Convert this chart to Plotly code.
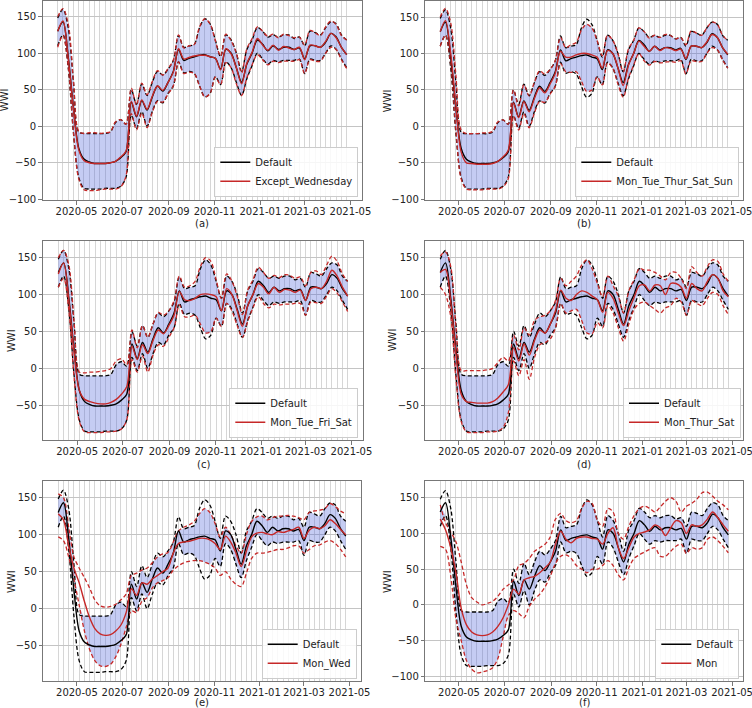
import numpy as np
import pandas as pd
import plotly.graph_objects as go

dates = pd.date_range('2020-04-06', periods=56, freq='7D').strftime('%Y-%m-%d').tolist()

default_mean = [130,143,95,25,-30,-45,-49,-51,-51,-51,-50,-48,-43,-35,33,13,35,22,40,55,48,60,75,105,90,93,95,97,98,95,93,78,105,100,80,60,85,100,118,112,103,110,105,108,108,105,107,92,110,110,108,115,127,122,108,98]
default_upper = [148,160,135,60,-8,-10,-10,-10,-10,-10,-8,5,9,3,50,30,58,42,60,75,70,78,90,124,108,110,112,135,147,140,118,95,125,118,100,75,105,118,135,130,122,125,122,125,125,120,122,110,130,128,125,135,143,140,125,118]
default_lower = [110,125,80,-10,-70,-85,-86,-86,-86,-85,-85,-85,-82,-70,15,-3,20,0,20,35,32,45,55,88,73,75,72,55,40,45,68,57,88,80,60,42,65,83,100,92,85,90,88,90,90,90,92,72,92,90,90,100,110,105,92,80]

a_mean = [130,144,93,24,-32,-47,-50,-51,-51,-51,-50,-48,-42,-34,34,14,36,23,41,55,49,60,74,106,92,94,96,97,97,95,93,77,106,99,80,58,86,101,120,111,104,111,104,109,107,105,108,91,111,110,108,116,127,121,108,98]
a_upper = [150,161,140,62,-7,-10,-9,-9,-10,-9,-8,6,9,3,52,29,59,43,61,76,70,79,90,125,107,110,112,136,147,140,117,96,126,117,100,73,106,120,136,130,123,126,121,126,124,121,122,111,131,128,124,136,144,139,124,118]
a_lower = [108,124,82,-8,-72,-87,-88,-88,-87,-86,-86,-86,-83,-68,17,-5,18,-2,19,34,33,44,55,88,72,74,72,55,40,45,67,57,87,80,58,42,66,84,98,91,84,89,87,89,89,89,91,72,91,89,89,100,108,105,91,79]

b_mean = [130,145,100,28,-35,-50,-51,-52,-52,-52,-51,-48,-42,-33,32,12,34,20,38,53,46,58,73,103,95,95,98,100,100,98,95,80,104,100,80,56,84,100,117,110,103,110,104,108,107,104,106,93,110,110,108,116,126,122,108,99]
b_upper = [150,162,142,70,-5,-10,-10,-10,-9,-9,-7,6,9,3,50,28,57,42,60,76,72,78,90,122,108,112,115,132,140,135,118,97,125,118,100,75,106,118,135,130,121,125,122,126,125,120,122,112,131,128,125,135,143,140,125,118]
b_lower = [110,125,85,-5,-72,-86,-87,-87,-87,-86,-86,-86,-83,-72,14,-5,18,-2,18,34,33,44,55,86,75,74,75,62,48,50,68,57,87,80,58,40,66,84,100,90,84,89,87,88,89,88,90,72,90,89,89,100,108,105,91,80]

c_mean = [128,143,92,22,-30,-42,-45,-47,-48,-48,-46,-42,-35,-25,30,12,32,20,38,52,47,58,72,104,93,92,95,100,101,100,97,78,108,100,78,57,85,100,115,110,101,110,103,107,106,103,106,92,108,110,108,118,133,125,110,98]
c_upper = [150,160,140,62,-5,-6,-5,-5,-4,-3,0,10,13,5,52,28,58,42,60,76,72,78,92,125,110,112,118,138,150,145,120,95,128,118,98,73,106,120,137,130,122,126,123,127,126,122,124,112,130,132,127,140,152,145,128,118]
c_lower = [110,122,78,-12,-72,-86,-87,-87,-87,-86,-86,-85,-82,-70,12,-5,17,-5,18,32,30,42,55,86,70,70,72,60,48,50,68,57,88,78,58,42,64,82,97,88,82,87,86,87,87,88,88,72,90,89,88,98,108,102,90,77]

d_mean = [130,134,90,20,-35,-45,-46,-47,-47,-47,-45,-40,-32,-22,28,10,33,18,38,52,48,60,78,106,95,92,100,105,103,98,93,76,103,95,75,58,78,96,112,113,105,113,112,100,115,115,110,95,115,108,105,118,127,122,105,97]
d_upper = [152,158,138,55,-3,-3,-3,-3,-3,-2,0,8,15,10,45,25,55,45,65,70,72,78,92,122,112,118,125,140,147,135,115,97,125,112,98,75,105,120,135,133,133,130,125,120,130,130,122,108,138,130,125,138,147,145,128,118]
d_lower = [110,100,70,-15,-72,-86,-87,-87,-87,-86,-86,-85,-80,-60,10,-10,12,-15,15,32,35,40,55,88,75,78,80,65,48,47,62,55,85,75,55,37,60,80,88,90,85,80,75,82,85,95,90,72,92,88,85,95,103,100,85,73]

e_mean = [128,120,85,55,35,10,-12,-27,-34,-36,-35,-30,-22,-5,27,18,35,33,40,45,50,55,75,88,90,91,93,95,95,93,88,80,98,90,75,57,78,97,102,103,101,100,104,103,105,107,110,95,106,110,108,112,120,115,107,100]
e_upper = [155,150,110,70,55,42,28,12,4,2,3,6,12,20,45,48,52,55,62,70,74,76,90,105,110,113,118,128,135,130,115,97,110,100,85,75,100,118,124,125,120,123,125,125,126,125,123,120,130,132,133,135,142,138,132,128]
e_lower = [97,92,70,40,5,-30,-55,-70,-77,-78,-75,-65,-48,-25,-3,-5,10,15,28,35,38,42,52,58,62,64,65,65,63,60,55,45,50,40,33,30,48,68,75,75,76,78,80,80,82,85,85,75,80,85,86,90,92,88,80,70]

f_mean = [120,105,80,45,-5,-28,-38,-42,-43,-42,-38,-30,-18,0,22,15,35,38,40,45,52,60,85,103,92,87,93,95,95,93,92,85,100,108,80,65,80,95,100,102,105,112,108,97,108,118,115,100,112,110,112,120,130,122,112,103]
f_upper = [140,115,102,88,60,28,10,4,0,2,5,12,22,28,35,55,58,65,75,80,85,95,120,128,118,115,118,135,145,142,118,110,135,130,100,92,110,125,135,138,135,130,137,145,150,145,130,138,142,148,157,158,152,145,140,133]
f_lower = [82,78,40,-20,-50,-78,-90,-95,-94,-92,-88,-75,-45,-15,-8,-12,-18,-2,8,15,25,40,58,68,70,65,55,50,45,50,50,55,62,55,42,35,52,65,70,74,78,80,68,68,75,82,85,72,80,78,80,92,95,90,82,73]

variant_names = ["Except_Wednesday", "Mon_Tue_Thur_Sat_Sun", "Mon_Tue_Fri_Sat",
                 "Mon_Thur_Sat", "Mon_Wed", "Mon"]
panel_labels = ["(a)", "(b)", "(c)", "(d)", "(e)", "(f)"]
variants = [(a_mean, a_upper, a_lower), (b_mean, b_upper, b_lower), (c_mean, c_upper, c_lower),
            (d_mean, d_upper, d_lower), (e_mean, e_upper, e_lower), (f_mean, f_upper, f_lower)]
y_ranges = [[-101, 172], [-101, 172], [-97, 173], [-97, 173], [-98, 172], [-107, 173]]

W, H = 752, 708
# plot-area boxes in pixels: (left, right, top, bottom)
boxes = [(42.7, 361.7, 0.5, 200), (425.3, 742.7, 1, 200),
         (43.3, 362.7, 240.7, 440), (425.3, 743.3, 240.7, 440),
         (43.3, 360.7, 481.3, 681.3), (425.3, 743.3, 481.3, 681.3)]
legend_pos = [(358.3, 196.7), (739.3, 196.7), (358.3, 437.7), (741, 437.7), (356.7, 678.7), (739.3, 678.7)]
label_y = [223, 223.5, 464.5, 464.5, 702.5, 702.5]
wwi_x = [4, 387.7, 11.7, 392, 11.7, 387.7]

FONT = "DejaVu Sans"
RED = "#c62828"
FILL = "rgba(80,100,220,0.33)"
SMOOTH = 0.9
TXT = "#222"

fig = go.Figure()
layout = dict(width=W, height=H, margin=dict(l=0, r=0, t=0, b=0),
              paper_bgcolor="white", plot_bgcolor="white",
              font=dict(family=FONT, size=10, color=TXT), showlegend=True)
annotations = []

dl = np.array(default_lower, dtype=float)
du = np.array(default_upper, dtype=float)

for k in range(6):
    n = k + 1
    xa = "x" if n == 1 else f"x{n}"
    ya = "y" if n == 1 else f"y{n}"
    lg = "legend" if n == 1 else f"legend{n}"
    vm, vu, vl = variants[k]
    lo = np.maximum(dl, np.array(vl, dtype=float))
    hi = np.minimum(du, np.array(vu, dtype=float))
    hi = np.maximum(hi, lo)
    common = dict(x=dates, xaxis=xa, yaxis=ya, mode="lines", hoverinfo="skip")
    fig.add_trace(go.Scatter(y=lo, line=dict(width=0, shape="spline", smoothing=SMOOTH),
                             showlegend=False, **common))
    fig.add_trace(go.Scatter(y=hi, line=dict(width=0, shape="spline", smoothing=SMOOTH),
                             fill="tonexty", fillcolor=FILL, showlegend=False, **common))
    for arr in (default_upper, default_lower):
        fig.add_trace(go.Scatter(y=arr, line=dict(color="black", width=1.3, dash="4px,2.5px",
                                                  shape="spline", smoothing=SMOOTH),
                                 showlegend=False, **common))
    for arr in (vu, vl):
        fig.add_trace(go.Scatter(y=arr, line=dict(color=RED, width=1.3, dash="4px,2.5px",
                                                  shape="spline", smoothing=SMOOTH),
                                 showlegend=False, **common))
    fig.add_trace(go.Scatter(y=default_mean, name="Default",
                             line=dict(color="black", width=1.4, shape="spline", smoothing=SMOOTH),
                             legend=lg, **common))
    fig.add_trace(go.Scatter(y=vm, name=variant_names[k],
                             line=dict(color=RED, width=1.4, shape="spline", smoothing=SMOOTH),
                             legend=lg, **common))

    l, r, t, b = boxes[k]
    axis_common = dict(showline=True, mirror=True, linecolor="#777", linewidth=1,
                       ticks="outside", ticklen=3.5, tickcolor="#777", automargin=False,
                       tickfont=dict(size=10, family=FONT, color=TXT), zeroline=False)
    layout["xaxis" if n == 1 else f"xaxis{n}"] = dict(
        domain=[l / W, r / W], anchor=ya, type="date", tickangle=0,
        ticklabeloverflow="allow", ticklabelstandoff=-2,
        range=["2020-03-17", "2021-05-16"], tickformat="%Y-%m", dtick="M2", tick0="2020-05-01",
        showgrid=False,
        minor=dict(tickmode="array", tickvals=dates, showgrid=True, gridcolor="#d6d6d6",
                   gridwidth=1, ticks=""),
        **axis_common)
    layout["yaxis" if n == 1 else f"yaxis{n}"] = dict(
        domain=[1 - b / H, 1 - t / H], anchor=xa, range=y_ranges[k],
        dtick=50, tick0=0, showgrid=True, gridcolor="#c4c4c4", gridwidth=1,
        **axis_common)
    lx, ly = legend_pos[k]
    layout[lg] = dict(x=lx / W, y=1 - ly / H, xanchor="right", yanchor="bottom",
                      bgcolor="rgba(255,255,255,0.85)", bordercolor="#cccccc", borderwidth=1,
                      font=dict(size=10, family=FONT, color=TXT), tracegroupgap=0,
                      itemwidth=30, traceorder="normal")
    annotations.append(dict(text=panel_labels[k], xref="paper", yref="paper",
                            x=(l + r) / 2 / W, y=1 - label_y[k] / H, xanchor="center",
                            yanchor="middle", showarrow=False, borderpad=0,
                            font=dict(size=10, family=FONT, color=TXT)))
    annotations.append(dict(text="WWI", xref="paper", yref="paper", textangle=-90,
                            x=wwi_x[k] / W, y=1 - (t + b) / 2 / H, xanchor="center",
                            yanchor="middle", showarrow=False,
                            font=dict(size=10, family=FONT, color=TXT)))

layout["annotations"] = annotations
fig.update_layout(**layout)
fig.write_html("out.html", config={"displayModeBar": False},
               post_script="document.body.style.margin='0px';document.body.style.overflow='hidden';")
